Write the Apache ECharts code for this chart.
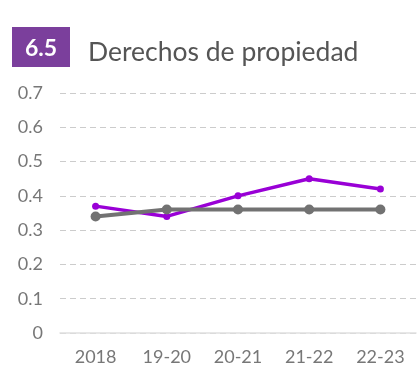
<!DOCTYPE html>
<html>
<head>
<meta charset="utf-8">
<script src="https://cdn.jsdelivr.net/npm/echarts@6/dist/echarts.min.js"></script>
<style>
html, body { margin: 0; padding: 0; background: #fff; }
#chart { width: 417px; height: 371px; }
</style>
</head>
<body>
<div id="chart"></div>
<script>
const categories = ['2018', '19-20', '20-21', '21-22', '22-23'];
const purpleValues = [0.37, 0.34, 0.40, 0.45, 0.42];
const grayValues = [0.34, 0.36, 0.36, 0.36, 0.36];
const sectionNumber = '6.5';
const sectionTitle = 'Derechos de propiedad';

const font = 'Lato, "Open Sans", sans-serif';
const chart = echarts.init(document.getElementById('chart'), null, { renderer: 'canvas' });

chart.setOption({
  animation: false,
  backgroundColor: '#ffffff',
  graphic: [
    {
      type: 'rect',
      shape: { x: 12, y: 27, width: 58, height: 40 },
      style: { fill: '#7b3f9c' }
    },
    {
      type: 'text',
      x: 41, y: 49,
      style: {
        text: sectionNumber,
        fill: '#ffffff',
        font: 'bold 23px ' + font,
        align: 'center',
        verticalAlign: 'middle'
      }
    },
    {
      type: 'text',
      x: 88, y: 52,
      style: {
        text: sectionTitle,
        fill: '#555555',
        font: '26.5px ' + font,
        align: 'left',
        verticalAlign: 'middle'
      }
    }
  ],
  grid: { left: 60, right: 1, top: 93, bottom: 38, containLabel: false },
  xAxis: {
    type: 'category',
    data: categories,
    boundaryGap: true,
    axisLine: { show: true, lineStyle: { color: '#e0e0e0', width: 1.5 } },
    axisTick: { show: false },
    axisLabel: { color: '#777777', fontSize: 18, fontFamily: font, margin: 15 }
  },
  yAxis: {
    type: 'value',
    min: 0, max: 0.7, interval: 0.1,
    axisLine: { show: false },
    axisTick: { show: false },
    axisLabel: {
      color: '#777777', fontSize: 18, fontFamily: font, margin: 17,
      formatter: v => (v === 0 ? '0' : v.toFixed(1))
    },
    splitLine: { lineStyle: { color: '#cccccc', type: [6, 4], width: 1 } }
  },
  series: [
    {
      type: 'line',
      data: purpleValues,
      symbol: 'circle',
      symbolSize: 7,
      lineStyle: { color: '#9900d6', width: 3.5 },
      itemStyle: { color: '#9900d6' },
      z: 2
    },
    {
      type: 'line',
      data: grayValues,
      symbol: 'circle',
      symbolSize: 10,
      lineStyle: { color: '#727272', width: 4 },
      itemStyle: { color: '#727272' },
      z: 3
    }
  ]
});
</script>
</body>
</html>
